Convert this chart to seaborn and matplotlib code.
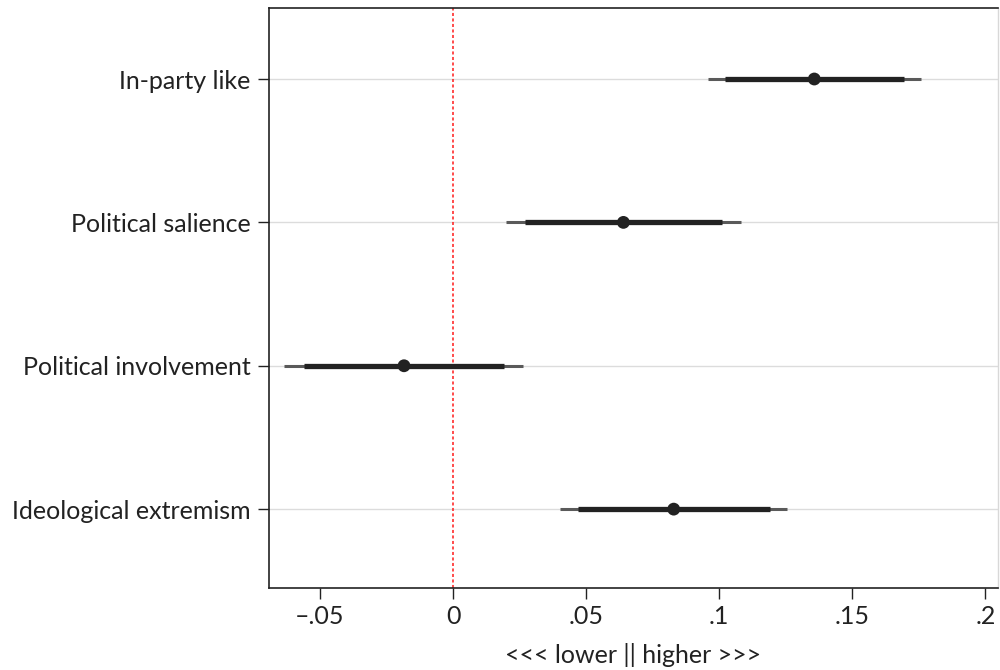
import matplotlib
matplotlib.use("Agg")
import matplotlib.pyplot as plt
import seaborn as sns
import numpy as np
import pandas as pd

categories = ["In-party like", "Political salience", "Political involvement", "Ideological extremism"]
estimate = [0.1357, 0.0640, -0.0184, 0.0829]
ci90_low = [0.1023, 0.0270, -0.0561, 0.0470]
ci90_high = [0.1693, 0.1012, 0.0191, 0.1189]
ci95_low = [0.0958, 0.0199, -0.0634, 0.0401]
ci95_high = [0.1757, 0.1083, 0.0264, 0.1255]
xticks = [-0.05, 0, 0.05, 0.1, 0.15, 0.2]
xticklabels = ["\u2013.05", "0", ".05", ".1", ".15", ".2"]
xlabel = "<<< lower || higher >>>"

sns.set_theme(style="white")
plt.rcParams['font.family'] = ['Lato', 'DejaVu Sans']

df = pd.DataFrame({
    "cat": categories,
    "est": estimate,
    "lo90": ci90_low, "hi90": ci90_high,
    "lo95": ci95_low, "hi95": ci95_high,
})
df["pos"] = np.arange(len(df))[::-1] + 1

fig = plt.figure(figsize=(10, 6.7), dpi=100)
ax = fig.add_axes([0.2685, 0.1224, 0.7295, 0.8656])

for p in df["pos"]:
    ax.axhline(p, color="#dcdcdc", lw=1.0, zorder=0)
ax.axvline(0, color="#ff1a1a", lw=1.1, ls=(0, (2, 1.6)), zorder=1)

ax.hlines(df["pos"], df["lo95"], df["hi95"], color="#5a5a5a", lw=2.2, zorder=2)
ax.hlines(df["pos"], df["lo90"], df["hi90"], color="#222222", lw=3.8, zorder=3)
sns.scatterplot(data=df, x="est", y="pos", ax=ax, color="#222222", s=85,
                edgecolor="none", zorder=4, legend=False)

ax.set_xlim(-0.0693, 0.2047)
ax.set_ylim(0.45, 4.495)
ax.set_xticks(xticks)
ax.set_xticklabels(xticklabels)
ax.set_yticks(df["pos"])
ax.set_yticklabels(df["cat"])
ax.set_xlabel(xlabel, fontsize=18, labelpad=11, color="#222222")
ax.set_ylabel("")
ax.tick_params(axis="both", which="both", direction="out", length=8, width=1.0,
               color="#222222", labelsize=18, labelcolor="#222222", pad=5,
               bottom=True, left=True)
ax.tick_params(axis="x", pad=4)

for side in ["left", "bottom", "top"]:
    ax.spines[side].set_color("#222222")
    ax.spines[side].set_linewidth(1.2)
ax.spines["right"].set_color("#d8d8d8")
ax.spines["right"].set_linewidth(1.0)
ax.grid(False)

fig.savefig("out.png", dpi=100)
